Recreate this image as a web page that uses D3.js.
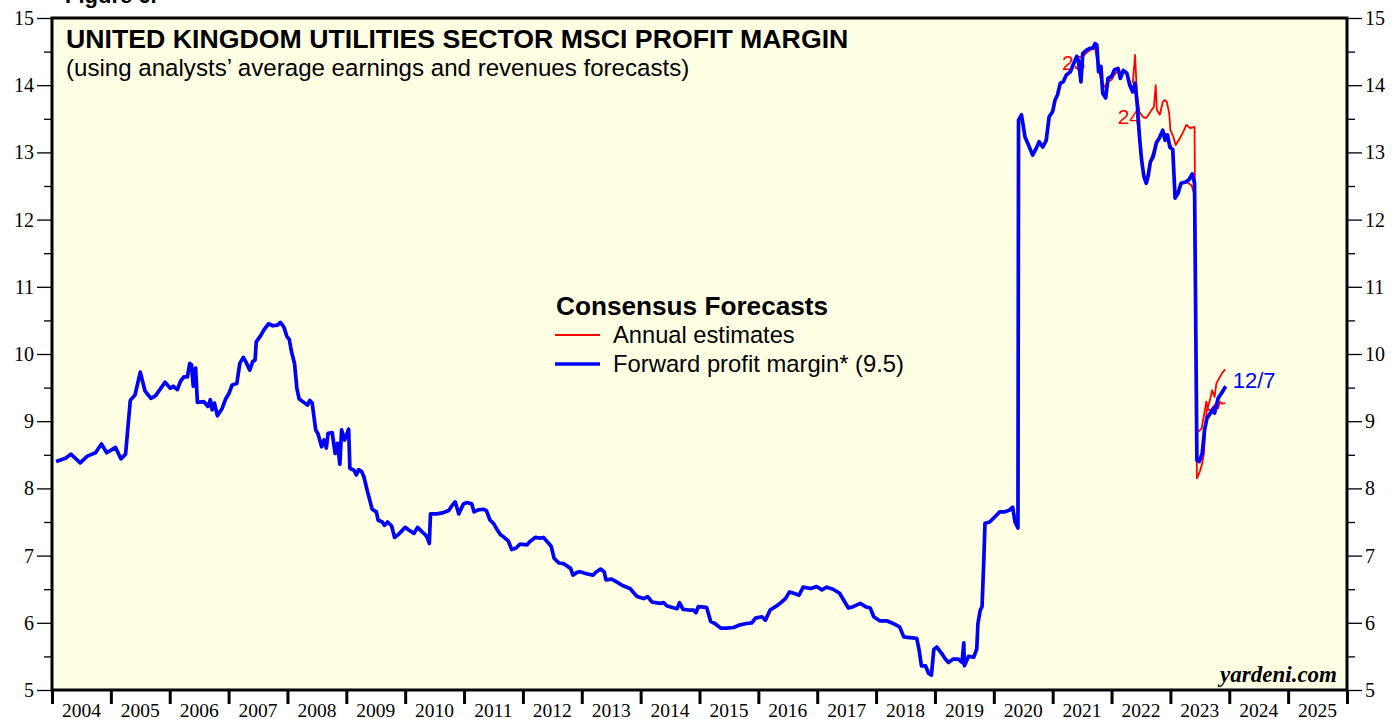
<!DOCTYPE html>
<html>
<head>
<meta charset="utf-8">
<script src="https://cdn.jsdelivr.net/npm/d3@7"></script>
<style>
  body { margin: 0; background: #fff; }
  svg { display: block; }
</style>
</head>
<body>
<svg id="chart" width="1392" height="719"></svg>
<script>
// forward profit margin (weekly-ish), [decimal year, %]
var forwardMargin = [
  [2004.07,8.40],[2004.23,8.45],[2004.32,8.51],[2004.48,8.38],[2004.60,8.48],[2004.74,8.53],
  [2004.84,8.66],[2004.93,8.53],[2005.08,8.61],[2005.17,8.44],[2005.25,8.51],[2005.33,9.31],
  [2005.41,9.39],[2005.50,9.73],[2005.58,9.45],[2005.68,9.34],[2005.76,9.38],[2005.92,9.58],
  [2006.01,9.49],[2006.06,9.52],[2006.13,9.47],[2006.18,9.59],[2006.24,9.66],[2006.30,9.66],
  [2006.34,9.86],[2006.37,9.84],[2006.40,9.52],[2006.44,9.79],[2006.47,9.28],[2006.58,9.29],
  [2006.65,9.22],[2006.69,9.32],[2006.72,9.17],[2006.76,9.27],[2006.81,9.08],[2006.89,9.19],
  [2006.95,9.33],[2007.01,9.42],[2007.06,9.54],[2007.14,9.56],[2007.19,9.86],[2007.25,9.95],
  [2007.29,9.89],[2007.36,9.76],[2007.41,9.89],[2007.45,9.91],[2007.47,10.18],[2007.55,10.28],
  [2007.60,10.36],[2007.68,10.45],[2007.75,10.42],[2007.83,10.43],[2007.88,10.47],[2007.94,10.40],
  [2007.99,10.26],[2008.03,10.22],[2008.07,10.03],[2008.12,9.86],[2008.16,9.49],[2008.20,9.33],
  [2008.28,9.28],[2008.34,9.24],[2008.38,9.31],[2008.42,9.27],[2008.48,8.87],[2008.52,8.81],
  [2008.58,8.62],[2008.62,8.72],[2008.66,8.60],[2008.69,8.82],[2008.76,8.83],[2008.81,8.52],
  [2008.85,8.67],[2008.89,8.36],[2008.92,8.87],[2008.97,8.72],[2009.04,8.88],[2009.06,8.30],
  [2009.13,8.27],[2009.17,8.20],[2009.21,8.28],[2009.26,8.25],[2009.30,8.17],[2009.36,7.95],
  [2009.44,7.69],[2009.51,7.65],[2009.54,7.53],[2009.61,7.50],[2009.65,7.45],[2009.70,7.50],
  [2009.77,7.44],[2009.82,7.27],[2009.89,7.32],[2010.00,7.42],[2010.08,7.37],[2010.15,7.33],
  [2010.21,7.42],[2010.28,7.36],[2010.34,7.31],[2010.37,7.28],[2010.41,7.18],[2010.43,7.62],
  [2010.54,7.62],[2010.65,7.64],[2010.74,7.67],[2010.80,7.75],[2010.85,7.80],[2010.91,7.62],
  [2010.99,7.77],[2011.05,7.79],[2011.13,7.77],[2011.17,7.65],[2011.24,7.68],[2011.33,7.69],
  [2011.38,7.67],[2011.44,7.53],[2011.50,7.48],[2011.56,7.39],[2011.62,7.31],[2011.67,7.28],
  [2011.75,7.22],[2011.81,7.09],[2011.88,7.11],[2011.95,7.17],[2012.07,7.16],[2012.12,7.21],
  [2012.21,7.27],[2012.29,7.26],[2012.35,7.27],[2012.41,7.21],[2012.48,7.14],[2012.53,6.96],
  [2012.61,6.89],[2012.69,6.88],[2012.76,6.84],[2012.81,6.81],[2012.85,6.71],[2012.92,6.75],
  [2012.97,6.76],[2013.08,6.73],[2013.19,6.71],[2013.25,6.76],[2013.32,6.80],[2013.38,6.76],
  [2013.41,6.64],[2013.51,6.65],[2013.59,6.61],[2013.68,6.56],[2013.82,6.51],[2013.89,6.44],
  [2013.94,6.39],[2014.05,6.36],[2014.12,6.39],[2014.19,6.31],[2014.33,6.29],[2014.39,6.30],
  [2014.45,6.25],[2014.62,6.21],[2014.66,6.30],[2014.72,6.20],[2014.82,6.19],[2014.90,6.19],
  [2014.94,6.15],[2014.98,6.24],[2015.12,6.23],[2015.19,6.02],[2015.26,5.99],[2015.36,5.92],
  [2015.46,5.92],[2015.58,5.93],[2015.69,5.97],[2015.80,5.99],[2015.89,6.00],[2015.95,6.07],
  [2016.06,6.09],[2016.12,6.04],[2016.20,6.19],[2016.29,6.24],[2016.37,6.29],[2016.46,6.36],
  [2016.53,6.46],[2016.60,6.44],[2016.69,6.41],[2016.76,6.53],[2016.89,6.51],[2016.99,6.54],
  [2017.08,6.49],[2017.16,6.53],[2017.27,6.50],[2017.38,6.44],[2017.44,6.35],[2017.53,6.22],
  [2017.61,6.24],[2017.73,6.29],[2017.82,6.24],[2017.90,6.22],[2017.96,6.09],[2018.06,6.03],
  [2018.18,6.03],[2018.29,5.99],[2018.40,5.94],[2018.47,5.79],[2018.57,5.78],[2018.69,5.77],
  [2018.73,5.60],[2018.77,5.36],[2018.84,5.36],[2018.89,5.25],[2018.94,5.22],[2018.98,5.60],
  [2019.03,5.64],[2019.11,5.55],[2019.17,5.47],[2019.23,5.41],[2019.31,5.46],[2019.40,5.46],
  [2019.46,5.41],[2019.49,5.70],[2019.50,5.36],[2019.57,5.50],[2019.66,5.49],[2019.71,5.61],
  [2019.73,5.99],[2019.77,6.19],[2019.80,6.24],[2019.83,6.93],[2019.85,7.48],[2019.93,7.50],
  [2020.01,7.57],[2020.10,7.65],[2020.18,7.65],[2020.27,7.68],[2020.32,7.72],[2020.36,7.50],
  [2020.41,7.41],[2020.42,13.48],[2020.47,13.56],[2020.53,13.23],[2020.58,13.13],[2020.66,12.96],
  [2020.72,13.06],[2020.77,13.16],[2020.83,13.08],[2020.89,13.18],[2020.94,13.53],[2021.00,13.61],
  [2021.04,13.78],[2021.08,13.85],[2021.13,14.03],[2021.18,14.05],[2021.23,14.15],[2021.30,14.20],
  [2021.36,14.33],[2021.41,14.43],[2021.44,14.35],[2021.48,14.05],[2021.51,14.47],[2021.57,14.52],
  [2021.63,14.55],[2021.68,14.55],[2021.72,14.62],[2021.75,14.60],[2021.78,14.20],[2021.82,14.28],
  [2021.85,13.88],[2021.90,13.81],[2021.94,14.10],[2022.00,14.13],[2022.05,14.23],[2022.11,14.25],
  [2022.15,14.10],[2022.20,14.22],[2022.26,14.18],[2022.31,14.00],[2022.36,13.90],[2022.40,14.03],
  [2022.44,13.68],[2022.47,13.28],[2022.51,12.89],[2022.55,12.64],[2022.59,12.54],[2022.62,12.64],
  [2022.66,12.86],[2022.71,12.94],[2022.76,13.14],[2022.81,13.21],[2022.87,13.33],[2022.91,13.18],
  [2022.95,13.26],[2022.99,13.08],[2023.04,13.04],[2023.08,12.32],[2023.13,12.39],[2023.18,12.54],
  [2023.26,12.56],[2023.31,12.59],[2023.37,12.68],[2023.41,12.54],[2023.45,8.42],[2023.49,8.40],
  [2023.54,8.52],[2023.58,8.87],[2023.62,9.04],[2023.68,9.12],[2023.73,9.19],[2023.75,9.12],
  [2023.81,9.34],[2023.87,9.42],[2023.94,9.52]
];

// annual consensus estimates
var est23 = [
  [2021.30,14.18],[2021.36,14.30],[2021.41,14.40],[2021.48,14.10],[2021.51,14.42],[2021.57,14.48],
  [2021.63,14.52],[2021.72,14.55],[2021.78,14.25],[2021.85,13.95],[2021.94,14.05],[2022.00,14.08],
  [2022.05,14.16],[2022.11,14.21],[2022.15,14.12],[2022.20,14.20],[2022.26,14.17],[2022.31,14.05],
  [2022.36,13.95],[2022.40,14.00],[2022.44,13.70],[2022.47,13.30],[2022.51,12.92],[2022.55,12.66],
  [2022.59,12.56],[2022.66,12.88],[2022.76,13.15],[2022.87,13.32],[2022.95,13.24],[2023.04,13.02],
  [2023.08,12.34],[2023.19,12.54],[2023.27,12.56],[2023.36,12.51],[2023.40,12.39]
];
var est24 = [
  [2022.36,14.03],[2022.40,14.45],[2022.43,13.88],[2022.47,13.61],[2022.53,13.53],[2022.59,13.51],
  [2022.68,13.63],[2022.72,13.68],[2022.75,14.00],[2022.77,13.63],[2022.82,13.56],[2022.87,13.75],
  [2022.90,13.78],[2022.94,13.75],[2022.98,13.58],[2023.00,13.33],[2023.05,13.23],[2023.09,13.11],
  [2023.16,13.21],[2023.22,13.31],[2023.27,13.41],[2023.34,13.36],[2023.41,13.38],[2023.45,8.15],
  [2023.50,8.25],[2023.54,8.37],[2023.57,8.52],[2023.60,9.02],[2023.62,9.17],[2023.67,9.31],
  [2023.71,9.46],[2023.75,9.36],[2023.78,9.56],[2023.83,9.64],[2023.88,9.72],[2023.93,9.77]
];
var est25 = [
  [2023.47,8.84],[2023.53,8.89],[2023.58,9.14],[2023.61,9.29],[2023.64,9.17],[2023.70,9.17],
  [2023.75,9.24],[2023.81,9.19],[2023.84,9.29],[2023.88,9.26],[2023.93,9.27]
];

var years = d3.range(2004, 2026);
var yTicks = d3.range(5, 16, 1);
var yMinor = d3.range(5.5, 15, 1);

var svg = d3.select("#chart");
var sans = "Liberation Sans, Arial, sans-serif";
var serif = "Liberation Serif, Times New Roman, serif";

var x = d3.scaleLinear().domain([2004, 2026]).range([52, 1347]);
var y = d3.scaleLinear().domain([5, 15]).range([690, 18]);

// plot background
svg.append("rect")
  .attr("x", x(2004)).attr("y", y(15))
  .attr("width", x(2026) - x(2004)).attr("height", y(5) - y(15))
  .attr("fill", "#ffffe3");

// left / right axes
function yAxis(axisFn, tx) {
  var g = svg.append("g").attr("transform", "translate(" + tx + ",0)");
  g.call(axisFn(y).tickValues(yTicks).tickSize(15).tickPadding(3).tickFormat(d3.format("d")));
  g.append("g").call(axisFn(y).tickValues(yMinor).tickSize(8).tickFormat(""));
  g.selectAll(".domain").remove();
  g.selectAll("line").attr("stroke", "#000").attr("stroke-width", 1.3);
  g.selectAll("text").attr("font-family", serif)
    .attr("font-size", 20).attr("fill", "#000");
  return g;
}
yAxis(d3.axisLeft, x(2004));
yAxis(d3.axisRight, x(2026));

// bottom axis: ticks at year boundaries, labels centred in each year
var xg = svg.append("g").attr("transform", "translate(0," + y(5) + ")");
xg.call(d3.axisBottom(x).tickValues(d3.range(2004, 2027)).tickSize(14).tickFormat(""));
xg.selectAll(".domain").remove();
xg.selectAll("line").attr("stroke", "#000").attr("stroke-width", 3);
xg.selectAll(".yr").data(years).enter().append("text")
  .attr("class", "yr")
  .attr("x", function(d) { return x(d + 0.5); })
  .attr("y", 27)
  .attr("text-anchor", "middle")
  .attr("fill", "#000")
  .attr("font-family", serif)
  .attr("font-size", 19.5)
  .text(function(d) { return d; });

// lines
var line = d3.line()
  .x(function(d) { return x(d[0]); })
  .y(function(d) { return y(d[1]); });

// labels at the start of each annual line (drawn under the lines)
svg.append("text").attr("x", 1062).attr("y", 70)
  .attr("fill", "#ff0000")
  .attr("font-family", sans).attr("font-size", 21).text("23");
svg.append("text").attr("x", 1141).attr("y", 124)
  .attr("text-anchor", "end").attr("fill", "#ff0000")
  .attr("font-family", sans).attr("font-size", 21).text("24");

[est23, est24, est25].forEach(function(s) {
  svg.append("path").datum(s)
    .attr("d", line)
    .attr("fill", "none")
    .attr("stroke", "#ff0000")
    .attr("stroke-width", 1.8)
    .attr("stroke-linejoin", "round");
});

svg.append("path").datum(forwardMargin)
  .attr("d", line)
  .attr("fill", "none")
  .attr("stroke", "#0000ff")
  .attr("stroke-width", 3.7)
  .attr("stroke-linejoin", "round");

var last = forwardMargin[forwardMargin.length - 1];
svg.append("text").attr("x", x(last[0]) + 7).attr("y", y(last[1]) + 2)
  .attr("fill", "#0000ff")
  .attr("font-family", sans).attr("font-size", 22).text("12/7");

// frame
svg.append("rect")
  .attr("x", x(2004)).attr("y", y(15))
  .attr("width", x(2026) - x(2004)).attr("height", y(5) - y(15))
  .attr("fill", "none").attr("stroke", "#000").attr("stroke-width", 3);

// titles
svg.append("text").attr("x", 65).attr("y", 3)
  .attr("font-family", sans).attr("font-weight", "bold").attr("font-size", 22).text("Figure 6.");
svg.append("text").attr("x", 66).attr("y", 48)
  .attr("font-family", sans).attr("font-weight", "bold").attr("font-size", 26.7)
  .text("UNITED KINGDOM UTILITIES SECTOR MSCI PROFIT MARGIN");
svg.append("text").attr("x", 66).attr("y", 76)
  .attr("font-family", sans).attr("font-size", 24.1)
  .text("(using analysts\u2019 average earnings and revenues forecasts)");

// legend
var lg = svg.append("g").attr("transform", "translate(555,0)");
lg.append("text").attr("x", 1).attr("y", 315)
  .attr("font-family", sans).attr("font-weight", "bold").attr("font-size", 26.2).text("Consensus Forecasts");
lg.append("line").attr("x1", 0).attr("x2", 45).attr("y1", 335).attr("y2", 335)
  .attr("stroke", "#ff0000").attr("stroke-width", 1.8);
lg.append("text").attr("x", 58).attr("y", 343)
  .attr("font-family", sans).attr("font-size", 23.7).text("Annual estimates");
lg.append("line").attr("x1", 0).attr("x2", 45).attr("y1", 364).attr("y2", 364)
  .attr("stroke", "#0000ff").attr("stroke-width", 3.7);
lg.append("text").attr("x", 58).attr("y", 372)
  .attr("font-family", sans).attr("font-size", 23.8).text("Forward profit margin* (9.5)");

// source
svg.append("text").attr("x", 1337).attr("y", 682)
  .attr("text-anchor", "end")
  .attr("font-family", serif)
  .attr("font-weight", "bold").attr("font-style", "italic").attr("font-size", 23)
  .text("yardeni.com");
</script>
</body>
</html>
